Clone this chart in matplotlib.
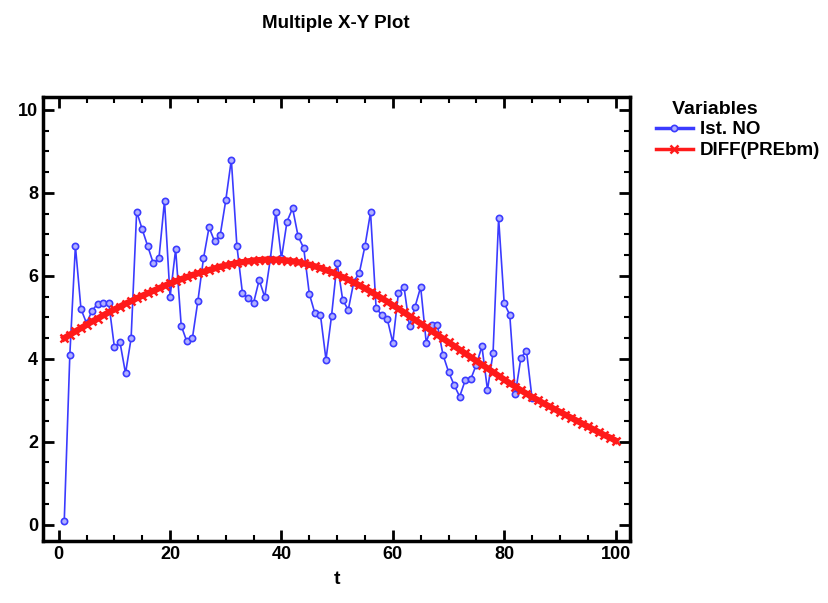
import numpy as np
import matplotlib.pyplot as plt
from matplotlib.ticker import MultipleLocator

plt.rcParams['font.family'] = ['Liberation Sans', 'DejaVu Sans']
plt.rcParams['font.weight'] = 'bold'

# Ist. NO, one value per t = 1..85
t_obs = np.arange(1, 86)
ist_no = [0.10, 4.10, 6.72, 5.20, 4.86, 5.16, 5.33, 5.34, 5.34, 4.28,
          4.40, 3.65, 4.49, 7.55, 7.12, 6.71, 6.30, 6.42, 7.81, 5.49,
          6.64, 4.80, 4.42, 4.49, 5.40, 6.42, 7.17, 6.83, 6.98, 7.82,
          8.80, 6.72, 5.58, 5.46, 5.35, 5.90, 5.49, 6.40, 7.55, 6.42,
          7.31, 7.63, 6.95, 6.67, 5.57, 5.10, 5.06, 3.98, 5.04, 6.32,
          5.42, 5.18, 5.86, 6.08, 6.72, 7.53, 5.22, 5.06, 4.96, 4.39,
          5.58, 5.74, 4.78, 5.26, 5.73, 4.39, 4.82, 4.82, 4.10, 3.69,
          3.37, 3.09, 3.48, 3.51, 3.86, 4.30, 3.25, 4.14, 7.39, 5.34,
          5.06, 3.16, 4.02, 4.20, 3.05]

# DIFF(PREbm), one value per t = 1..100
t_fit = np.arange(1, 101)
diff_prebm = [4.50, 4.58, 4.66, 4.74, 4.82, 4.90, 4.97, 5.05, 5.12, 5.19,
              5.26, 5.33, 5.39, 5.46, 5.52, 5.58, 5.64, 5.70, 5.76, 5.82,
              5.87, 5.92, 5.97, 6.02, 6.06, 6.10, 6.14, 6.18, 6.22, 6.25,
              6.28, 6.31, 6.33, 6.35, 6.37, 6.38, 6.39, 6.39, 6.39, 6.38,
              6.37, 6.35, 6.33, 6.30, 6.27, 6.23, 6.19, 6.14, 6.09, 6.03,
              5.97, 5.91, 5.84, 5.77, 5.70, 5.62, 5.54, 5.46, 5.38, 5.29,
              5.21, 5.12, 5.03, 4.94, 4.85, 4.76, 4.67, 4.58, 4.49, 4.40,
              4.31, 4.22, 4.13, 4.04, 3.95, 3.86, 3.77, 3.68, 3.59, 3.50,
              3.41, 3.33, 3.24, 3.16, 3.08, 3.01, 2.93, 2.86, 2.79, 2.72,
              2.65, 2.58, 2.51, 2.44, 2.37, 2.30, 2.23, 2.16, 2.10, 2.03]

fig = plt.figure(figsize=(8.29, 6.03), dpi=100)
ax = fig.add_axes([0.052, 0.103, 0.708, 0.736])

ax.plot(t_obs, ist_no, '-o', color='#3b3bff', lw=1.2, ms=4.5,
        mfc='#b0b0ff', mec='#3b3bff', mew=1.2, label='Ist. NO')
ax.plot(t_fit, diff_prebm, '-x', color='#ff1a1a', lw=4.5, ms=5.5,
        mew=1.8, label='DIFF(PREbm)')

ax.set_xlim(-2.8, 102.6)
ax.set_ylim(-0.39, 10.31)
ax.xaxis.set_major_locator(MultipleLocator(20))
ax.xaxis.set_minor_locator(MultipleLocator(5))
ax.yaxis.set_major_locator(MultipleLocator(2))
ax.yaxis.set_minor_locator(MultipleLocator(0.5))
ax.tick_params(which='both', direction='in', top=True, right=True,
               labelsize=13, width=1.5)
ax.tick_params(which='major', length=8, width=2)
ax.tick_params(which='minor', length=4)
for s in ax.spines.values():
    s.set_linewidth(2.5)

ax.set_xlabel('t', fontsize=14, fontweight='bold', labelpad=6)
fig.suptitle('Multiple X-Y Plot', x=0.405, y=0.975, fontsize=13.5,
             fontweight='bold')

leg = fig.legend(loc='upper left', bbox_to_anchor=(0.775, 0.855),
                 frameon=False, title='   Variables', fontsize=13.5,
                 title_fontsize=14, alignment='left', handlelength=2.0,
                 handletextpad=0.35, labelspacing=0.2, borderpad=0.2)
leg.get_title().set_fontweight('bold')
for h in leg.legend_handles:
    h.set_linewidth(2.5)

fig.savefig('out.png', dpi=100)
